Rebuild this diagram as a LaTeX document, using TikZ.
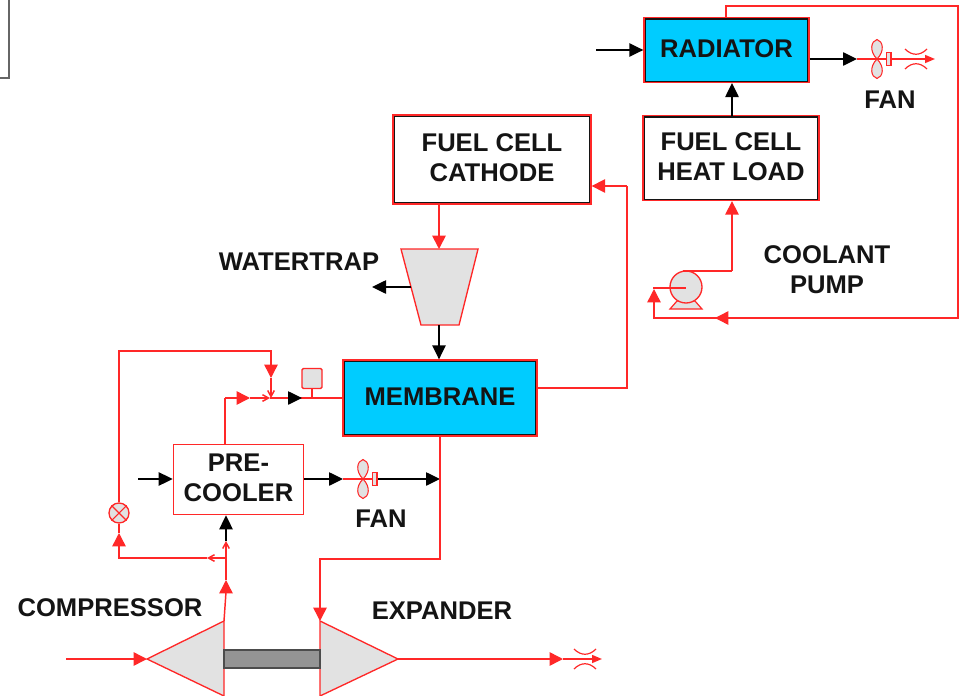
\documentclass[tikz,border=0pt]{standalone}
\usepackage{fontspec}
\setmainfont{Liberation Sans}
\usetikzlibrary{arrows.meta}
\definecolor{rd}{RGB}{255,40,40}
\definecolor{cy}{RGB}{0,204,255}
\definecolor{lg}{RGB}{226,226,226}
\definecolor{tk}{RGB}{20,20,20}
\tikzset{
 x=0.75pt,y=-0.75pt,
 lbl/.style={font=\fontsize{19.2}{22.5}\selectfont\bfseries,text=tk,align=center,inner sep=0pt},
 boxtext/.style={label={[lbl,yshift=1pt]center:{#1}}},
 rl/.style={draw=rd,line width=1.1pt},
 bl/.style={draw=black,line width=1.1pt},
 rA/.style={rl,-{Triangle[length=10pt,width=10pt,color=rd]}},
 bA/.style={bl,-{Triangle[length=10.5pt,width=10pt,color=black]}},
 rbA/.style={rl,-{Triangle[length=10.5pt,width=10pt,color=black]}},
 rS/.style={rl,-{Straight Barb[length=4.5pt,width=5pt]}},
 rT/.style={rl,-{Triangle[length=7.5pt,width=6pt,color=rd]}},
 gfill/.style={draw=rd,fill=lg,line width=1pt},
 blockbox/.style={draw=rd,fill=white,line width=1pt,rectangle,inner sep=0pt,
   path picture={\draw[tk,line width=3pt] (path picture bounding box.north west) rectangle (path picture bounding box.south east);}},
 coolbox/.style={blockbox,fill=cy},
 plainbox/.style={draw=rd,fill=white,line width=1.2pt,rectangle,inner sep=0pt},
}
\newcommand{\fanshape}[2]{%
 \begin{scope}[shift={(#1,#2)}]
  \draw[gfill,line width=.8pt] (0,0) .. controls (-8,-8) and (-6,-18) .. (0,-19.5) .. controls (6,-18) and (8,-8) .. (0,0);
  \draw[gfill,line width=.8pt] (0,0) .. controls (-8,8) and (-6,18) .. (0,19.5) .. controls (6,18) and (8,8) .. (0,0);
  \draw[draw=rd,line width=2pt] (-5,0) -- (9,0);
  \draw[draw=rd,fill=lg,line width=1pt] (9.5,-6.5) rectangle (14,6.5);
 \end{scope}}
\newcommand{\nozzle}[2]{%
 \begin{scope}[shift={(#1,#2)}]
  \draw[rd,line width=.9pt] (-11,-10) .. controls (-4,-3) and (4,-3) .. (11,-10);
  \draw[rd,line width=.9pt] (-11,10) .. controls (-4,3) and (4,3) .. (11,10);
 \end{scope}}
\begin{document}
\begin{tikzpicture}
\useasboundingbox[fill=white] (0,0) rectangle (961,696);
% corner fragment of a cropped box
\coordinate (cA) at (0,78); \coordinate (cB) at (9,78); \coordinate (cC) at (9,0);
\draw[line width=1.6pt,draw=black!60] (cA) -- (cB) -- (cC);

% blocks
\node[blockbox,minimum width=148.5pt,minimum height=66.75pt,boxtext={FUEL CELL\\CATHODE}] (cath) at (492,159.5) {};
\node[coolbox,minimum width=123.75pt,minimum height=48.75pt,boxtext={RADIATOR}] (rad) at (726.5,50) {};
\node[blockbox,minimum width=132pt,minimum height=63.75pt,boxtext={FUEL CELL\\HEAT LOAD}] (heat) at (731,158) {};
\node[coolbox,minimum width=145.5pt,minimum height=57pt,boxtext={MEMBRANE}] (mem) at (440,398) {};
\node[plainbox,minimum width=97.5pt,minimum height=52.5pt,boxtext={PRE-\\COOLER}] (pre) at (238.5,479.5) {};

% water trap
\coordinate (trapT) at (439,249);
\coordinate (trapL) at (411,287);
\coordinate (trapB) at (439,325);
\draw[gfill] (401,249) -- (478,249) -- (459,325) -- (421,325) -- cycle;

% compressor, expander, shaft
\coordinate (compIn) at (147,659);
\coordinate (compOut) at (224,621);
\coordinate (expIn) at (320,621);
\coordinate (expOut) at (398,659);
\draw[gfill] (compIn) -- (compOut) -- (224,696) -- cycle;
\draw[gfill] (expIn) -- (expOut) -- (320,696) -- cycle;
\node[draw=black!70,fill=black!42,line width=1.1pt,minimum width=72pt,minimum height=13.5pt,inner sep=0pt] (shaft) at (272,659) {};

% labels
\node[lbl] (lwt) at (299,262) {WATERTRAP};
\node[lbl] (lcp) at (110,608) {COMPRESSOR};
\node[lbl] (lex) at (442,611) {EXPANDER};
\node[lbl] (lf1) at (381,519) {FAN};
\node[lbl] (lf2) at (890,100) {FAN};
\node[lbl] (lpu) at (827,270) {COOLANT\\PUMP};

% radiator in/out
\coordinate (radIn) at (596,50);
\draw[bA] (radIn) -- (radIn -| rad.west);
\coordinate (radFan) at (857,59);
\coordinate (radEnd) at (935,59);
\draw[bA] (radFan -| rad.east) -- (radFan);
\draw[rT] (radFan) -- (radEnd);
\fanshape{877}{59}
\nozzle{916}{59}

% heat load to radiator
\draw[bA] (732,116) -- (732,83);

% coolant loop
\coordinate (rt1) at (726,6);
\coordinate (rt2) at (958,6);
\coordinate (rt3) at (958,318);
\coordinate (rt4) at (715,318);
\coordinate (rt5) at (654,318);
\coordinate (pumpIn) at (654,289);
\draw[rl] (726,18) -- (rt1) -- (rt2) -- (rt3) -- (rt4);
\draw[rA] (727,318) -- (rt4);
\draw[rl] (rt4) -- (rt5) -- (654,302);
\draw[rA] (654,302) -- (pumpIn);
% pump
\draw[draw=rd,fill=lg,line width=.9pt] (670,309) -- (677,301) -- (695,301) -- (702,309) -- cycle;
\node[circle,draw=rd,fill=lg,line width=1pt,minimum size=24pt,inner sep=0pt] (pump) at (686,287) {};
\draw[rl] (653,288) -- (686,288);
\coordinate (pumpOut) at (732,271);
\draw[rl] (683,271) -- (pumpOut);
\draw[rA] (pumpOut) -- (pumpOut |- heat.south);

% cathode in/out
\coordinate (mc1) at (627,388);
\coordinate (mc2) at (627,186);
\draw[rl] (mc1 -| mem.east) -- (mc1) -- (mc2);
\draw[rA] (mc2) -- (mc2 -| cath.east);
\draw[rA,line width=1.3pt] (cath.south -| trapT) -- (trapT);

% trap out
\coordinate (trapOut) at (372,287);
\draw[bA] (trapL) -- (trapOut);
\draw[bA] (trapB) -- (trapB |- mem.north);

% inlet to membrane
\coordinate (pre1) at (225,398);
\coordinate (mix) at (270,398);
\coordinate (sens) at (312,398);
\draw[rl] (pre.north -| pre1) -- (pre1);
\draw[rA] (pre1) -- (250,398);
\draw[rS] (250,398) -- (mix);
\draw[rl] (mix) -- (mem.west |- mix);
\draw[rbA] (mix) -- (302,398);
\node[gfill,rounded corners=1pt,minimum size=15pt,inner sep=0pt] (sensor) at (312,378.5) {};
\draw[rl] (sens) -- (sensor.south);

% valve
\node[circle,gfill,minimum size=15pt,inner sep=0pt] (valve) at (119,513) {};
\draw[rd,line width=.8pt] (valve.north west) -- (valve.south east) (valve.south west) -- (valve.north east);

% recycle
\coordinate (rc1) at (119,351);
\coordinate (rc2) at (271,351);
\coordinate (rc3) at (271,378);
\coordinate (rc4) at (119,558);
\coordinate (rc5) at (226,558);
\draw[rl] (valve.north) -- (rc1) -- (rc2) -- (271,367);
\draw[rA] (271,367) -- (rc3);
\draw[rS] (rc3) -- (mix -| rc3);
\draw[rS] (rc5) -- (207,558);
\draw[rl] (207,558) -- (rc4) -- (119,545);
\draw[rA] (119,545) -- (119,533);
\draw[rl] (119,533) -- (valve.south);

% pre-cooler air side
\coordinate (preIn) at (138,479);
\coordinate (fanA) at (343,479);
\coordinate (fanB) at (378,479);
\coordinate (fanC) at (440,479);
\draw[bA] (preIn) -- (preIn -| pre.west);
\draw[bA] (fanA -| pre.east) -- (fanA);
\draw[rl] (fanA) -- (358,479);
\fanshape{363}{479}
\draw[bA] (fanB) -- (fanC);

% compressor to pre-cooler
\coordinate (cp1) at (226,592);
\coordinate (cp2) at (226,580);
\coordinate (cp3) at (226,541);
\coordinate (cp4) at (226,527);
\draw[rl] (compOut) -- (cp1);
\draw[rA] (cp1) -- (cp2);
\draw[rS] (cp2) -- (cp3);
\draw[bl] (cp3) -- (cp4);
\draw[bA] (cp4) -- (cp4 |- pre.south);

% expander feed
\coordinate (ex1) at (440,559);
\coordinate (ex2) at (320,559);
\coordinate (ex3) at (320,608);
\draw[rl] (mem.south -| ex1) -- (ex1) -- (ex2) -- (ex3);
\draw[rA] (ex3) -- (expIn);

% compressor inlet, expander outlet
\coordinate (gasIn) at (66,659);
\coordinate (gasA) at (563,659);
\coordinate (gasEnd) at (602,659);
\draw[rA] (gasIn) -- (compIn);
\draw[rA] (expOut) -- (gasA);
\draw[rT] (gasA) -- (gasEnd);
\nozzle{585}{659}
\end{tikzpicture}
\end{document}
